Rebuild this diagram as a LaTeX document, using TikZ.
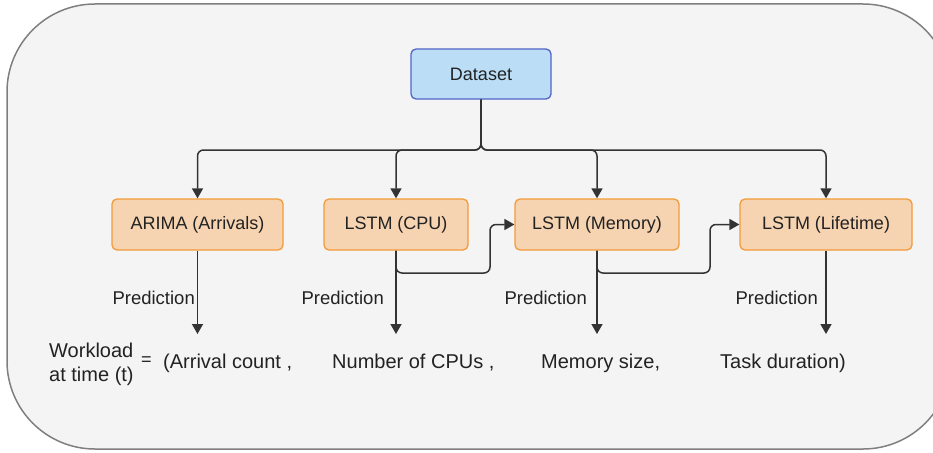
\documentclass[tikz,border=0pt]{standalone}
\usepackage{fontspec}
\setmainfont{Liberation Sans}
\usetikzlibrary{arrows.meta}
\definecolor{bgc}{HTML}{F4F4F4}
\definecolor{framec}{HTML}{7F7F7F}
\definecolor{dsfill}{HTML}{BBDEF6}
\definecolor{dsdraw}{HTML}{5264C8}
\definecolor{mfill}{HTML}{F6D4B2}
\definecolor{mdraw}{HTML}{F39B3A}
\definecolor{linec}{HTML}{333333}
\definecolor{txtc}{HTML}{222222}
\tikzset{
  frame/.style={draw=framec, fill=bgc, line width=1.5pt, rounded corners=88pt},
  dsbox/.style={draw=dsdraw, fill=dsfill, line width=1.3pt, rounded corners=5pt,
    minimum width=140pt, minimum height=50pt, inner sep=0pt, text=txtc,
    font=\fontsize{18}{21}\selectfont},
  modelbox/.style={draw=mdraw, fill=mfill, line width=1.3pt, rounded corners=5pt,
    minimum height=51pt, inner sep=0pt, text=txtc, font=\fontsize{18}{21}\selectfont},
  conn/.style={draw=linec, line width=1.5pt, rounded corners=6pt,
    -{Triangle[width=11pt,length=10pt]}},
  predlbl/.style={anchor=base east, inner sep=0pt, text=txtc, font=\fontsize{18.5}{22}\selectfont},
  outlbl/.style={anchor=base west, inner sep=0pt, text=txtc, font=\fontsize{20}{24}\selectfont},
}
\begin{document}
\begin{tikzpicture}[x=1pt,y=-1pt]
\useasboundingbox (0,0) rectangle (933,452);
\begin{scope}
  \clip (0,0) rectangle (933,452);
  \path[frame] (7,4) rectangle (951,449);
\end{scope}

\node[dsbox] (ds) at (481,74) {Dataset};
\node[modelbox, minimum width=171pt] (arima) at (197.5,224.5) {ARIMA (Arrivals)};
\node[modelbox, minimum width=144pt] (cpu) at (396,224.5) {LSTM (CPU)};
\node[modelbox, minimum width=164pt] (mem) at (597,224.5) {LSTM (Memory)};
\node[modelbox, minimum width=172pt] (life) at (826,224.5) {LSTM (Lifetime)};

\coordinate (bus) at (481,150);
\draw[conn] (ds.south) |- (arima.north |- bus) -- (arima.north);
\draw[conn] (ds.south) |- (cpu.north |- bus) -- (cpu.north);
\draw[conn] (ds.south) |- (mem.north |- bus) -- (mem.north);
\draw[conn] (ds.south) |- (life.north |- bus) -- (life.north);

\coordinate (j1) at (490,273);
\coordinate (j2) at (710,273);
\draw[conn] (cpu.south) |- (j1) |- (mem.west);
\draw[conn] (mem.south) |- (j2) |- (life.west);

\coordinate (p1) at (197.5,334);
\coordinate (p2) at (396,334);
\coordinate (p3) at (597,334);
\coordinate (p4) at (826,334);
\draw[conn] (arima.south) -- (p1);
\draw[conn] (cpu.south) -- (p2);
\draw[conn] (mem.south) -- (p3);
\draw[conn] (life.south) -- (p4);

\node[predlbl] (l1) at (195,304) {Prediction};
\node[predlbl] (l2) at (384,304) {Prediction};
\node[predlbl] (l3) at (587,304) {Prediction};
\node[predlbl] (l4) at (818,304) {Prediction};

\node[anchor=west, inner sep=0pt, align=left, text=txtc,
  font=\fontsize{20}{24}\selectfont] (wl) at (49,364) {Workload\\at time (t)};
\node[anchor=base west, inner sep=0pt, text=txtc, font=\fontsize{18}{22}\selectfont] (eq) at (141,365) {=};
\node[outlbl] (o1) at (163,368) {(Arrival count ,};
\node[outlbl] (o2) at (332,368) {Number of CPUs ,};
\node[outlbl] (o3) at (541,368) {Memory size,};
\node[outlbl] (o4) at (720,368) {Task duration)};
\end{tikzpicture}
\end{document}
